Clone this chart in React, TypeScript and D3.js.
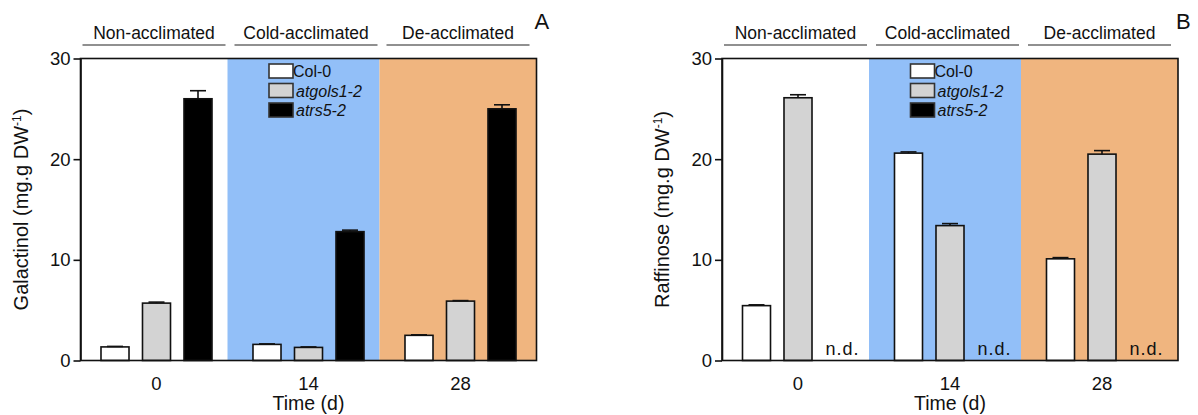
import { useEffect, useRef } from "react";
import * as d3 from "d3";

// time points (days) and the phase of each one
const days = ["0", "14", "28"];
const phases = ["Non-acclimated", "Cold-acclimated", "De-acclimated"];
const phaseColors = ["#ffffff", "#92bff8", "#f0b57f"];
const genotypes = ["Col-0", "atgols1-2", "atrs5-2"];
const barColors = ["#ffffff", "#d3d3d3", "#000000"];
const yTicks = [0, 10, 20, 30];

// galactinol (mg.g DW-1)
const galCol0 = [1.35, 1.6, 2.5];
const galGols = [5.7, 1.3, 5.9];
const galRs5 = [26.0, 12.8, 25.0];
const galCol0Err = [0.05, 0.05, 0.05];
const galGolsErr = [0.1, 0.05, 0.05];
const galRs5Err = [0.8, 0.15, 0.4];

// raffinose (mg.g DW-1), null = not detected
const rafCol0 = [5.45, 20.6, 10.1];
const rafGols = [26.1, 13.4, 20.5];
const rafRs5 = [null, null, null];
const rafCol0Err = [0.08, 0.12, 0.12];
const rafGolsErr = [0.3, 0.2, 0.35];
const rafRs5Err = [0, 0, 0];

const FONT = "'Liberation Sans', Arial, sans-serif";

const drawPanel = (svg, opts) => {
  const { left, letter, title, values, errors } = opts;
  const plotW = 456;
  const top = 58.5;
  const bottom = 360.5;
  const shift = -5;

  const g = svg.append("g").attr("font-family", FONT);
  const y = d3.scaleLinear().domain([0, 30]).range([bottom, top]);
  const x = d3.scaleBand().domain(days).range([left, left + plotW]);
  const xs = d3
    .scaleBand()
    .domain(genotypes)
    .range([-62.25, 62.25])
    .paddingInner(0.325)
    .paddingOuter(0.1625);

  // phase shading
  g.append("g")
    .selectAll("rect")
    .data(days)
    .join("rect")
    .attr("x", (d, i) => Math.max(left, x(d) + (i ? shift : 0)))
    .attr("y", top)
    .attr("width", (d, i) =>
      i === 0 ? x.bandwidth() + shift : i === 2 ? x.bandwidth() - shift : x.bandwidth()
    )
    .attr("height", bottom - top)
    .attr("fill", (d, i) => phaseColors[i]);

  // phase labels above the plot
  const lab = g.append("g");
  days.forEach((d, i) => {
    const x0 = x(d) + 2;
    const x1 = x(d) + x.bandwidth() - 7;
    lab
      .append("line")
      .attr("x1", x0)
      .attr("x2", x1)
      .attr("y1", 45)
      .attr("y2", 45)
      .attr("stroke", "#222")
      .attr("stroke-width", 1.2);
    lab
      .append("text")
      .attr("x", (x0 + x1) / 2)
      .attr("y", 39)
      .attr("text-anchor", "middle")
      .attr("font-size", 17.5)
      .attr("fill", "#111")
      .text(phases[i]);
  });

  // bars
  const rows = [];
  genotypes.forEach((gt, si) => {
    days.forEach((d, di) => {
      rows.push({
        day: d,
        gt,
        si,
        v: values[si][di],
        e: errors[si][di],
      });
    });
  });
  const bx = (r) => x(r.day) + x.bandwidth() / 2 + xs(r.gt);

  const present = rows.filter((r) => r.v != null);
  g.append("g")
    .selectAll("rect")
    .data(present)
    .join("rect")
    .attr("x", bx)
    .attr("y", (r) => y(r.v))
    .attr("width", xs.bandwidth())
    .attr("height", (r) => bottom - y(r.v))
    .attr("fill", (r) => barColors[r.si])
    .attr("stroke", "#111")
    .attr("stroke-width", 1.6);

  // error bars (upper only)
  const eb = g
    .append("g")
    .attr("stroke", "#111")
    .attr("stroke-width", 1.6)
    .selectAll("g")
    .data(present)
    .join("g");
  eb.append("line")
    .attr("x1", (r) => bx(r) + xs.bandwidth() / 2)
    .attr("x2", (r) => bx(r) + xs.bandwidth() / 2)
    .attr("y1", (r) => y(r.v))
    .attr("y2", (r) => y(r.v + r.e));
  eb.append("line")
    .attr("x1", (r) => bx(r) + xs.bandwidth() / 2 - 8)
    .attr("x2", (r) => bx(r) + xs.bandwidth() / 2 + 8)
    .attr("y1", (r) => y(r.v + r.e))
    .attr("y2", (r) => y(r.v + r.e));

  // n.d. marks
  g.append("g")
    .selectAll("text")
    .data(rows.filter((r) => r.v == null))
    .join("text")
    .attr("x", (r) => bx(r) + xs.bandwidth() / 2 + 3)
    .attr("y", 355)
    .attr("text-anchor", "middle")
    .attr("font-size", 18)
    .attr("letter-spacing", 1)
    .attr("fill", "#111")
    .text("n.d.");

  // frame
  g.append("rect")
    .attr("x", left)
    .attr("y", top)
    .attr("width", plotW)
    .attr("height", bottom - top)
    .attr("fill", "none")
    .attr("stroke", "#111")
    .attr("stroke-width", 1.6);

  // y axis
  const ya = g
    .append("g")
    .attr("transform", `translate(${left},0)`)
    .call(d3.axisLeft(y).tickValues(yTicks).tickSize(7).tickSizeOuter(0).tickPadding(3));
  ya.select(".domain").attr("stroke", "#111").attr("stroke-width", 1.6);
  ya.selectAll(".tick line").attr("stroke", "#111").attr("stroke-width", 1.6);
  ya.selectAll(".tick text")
    .attr("font-family", FONT)
    .attr("font-size", 18.5)
    .attr("fill", "#111");

  // x labels
  g.append("g")
    .selectAll("text")
    .data(days)
    .join("text")
    .attr("x", (d) => x(d) + x.bandwidth() / 2)
    .attr("y", 390)
    .attr("text-anchor", "middle")
    .attr("font-size", 18.5)
    .attr("fill", "#111")
    .text((d) => d);

  g.append("text")
    .attr("x", x(days[1]) + x.bandwidth() / 2)
    .attr("y", 410)
    .attr("text-anchor", "middle")
    .attr("font-size", 19.5)
    .attr("fill", "#111")
    .text("Time (d)");

  // y title
  const yt = g
    .append("text")
    .attr("transform", `translate(${left - 53},${(top + bottom) / 2}) rotate(-90)`)
    .attr("text-anchor", "middle")
    .attr("font-size", 20)
    .attr("fill", "#111");
  yt.append("tspan").text(`${title} (mg.g DW`);
  yt.append("tspan").attr("baseline-shift", "super").attr("font-size", 12).text("-1");
  yt.append("tspan").text(")");

  // legend
  const lg = g.append("g").attr("transform", `translate(${left + 188.5},64)`);
  genotypes.forEach((gt, i) => {
    const row = lg.append("g").attr("transform", `translate(0,${i * 19.5})`);
    row
      .append("rect")
      .attr("width", 24)
      .attr("height", 14)
      .attr("fill", barColors[i])
      .attr("stroke", "#333")
      .attr("stroke-width", 1.6);
    row
      .append("text")
      .attr("x", i === 0 ? 24 : 27)
      .attr("y", 13)
      .attr("font-size", 16)
      .attr("font-style", i === 0 ? "normal" : "italic")
      .attr("fill", "#111")
      .text(gt);
  });

  // panel letter
  g.append("text")
    .attr("x", left + plotW - 2)
    .attr("y", 29)
    .attr("font-size", 22)
    .attr("fill", "#111")
    .text(letter);
};

const App = () => {
  const ref = useRef(null);

  useEffect(() => {
    const svg = d3.select(ref.current);
    svg.selectAll("*").remove();
    drawPanel(svg, {
      left: 80.5,
      letter: "A",
      title: "Galactinol",
      values: [galCol0, galGols, galRs5],
      errors: [galCol0Err, galGolsErr, galRs5Err],
    });
    drawPanel(svg, {
      left: 722,
      letter: "B",
      title: "Raffinose",
      values: [rafCol0, rafGols, rafRs5],
      errors: [rafCol0Err, rafGolsErr, rafRs5Err],
    });
  }, []);

  return (
    <svg
      ref={ref}
      width={1198}
      height={415}
      style={{ position: "absolute", left: 0, top: 0, background: "#fff" }}
    />
  );
};

export default App;
